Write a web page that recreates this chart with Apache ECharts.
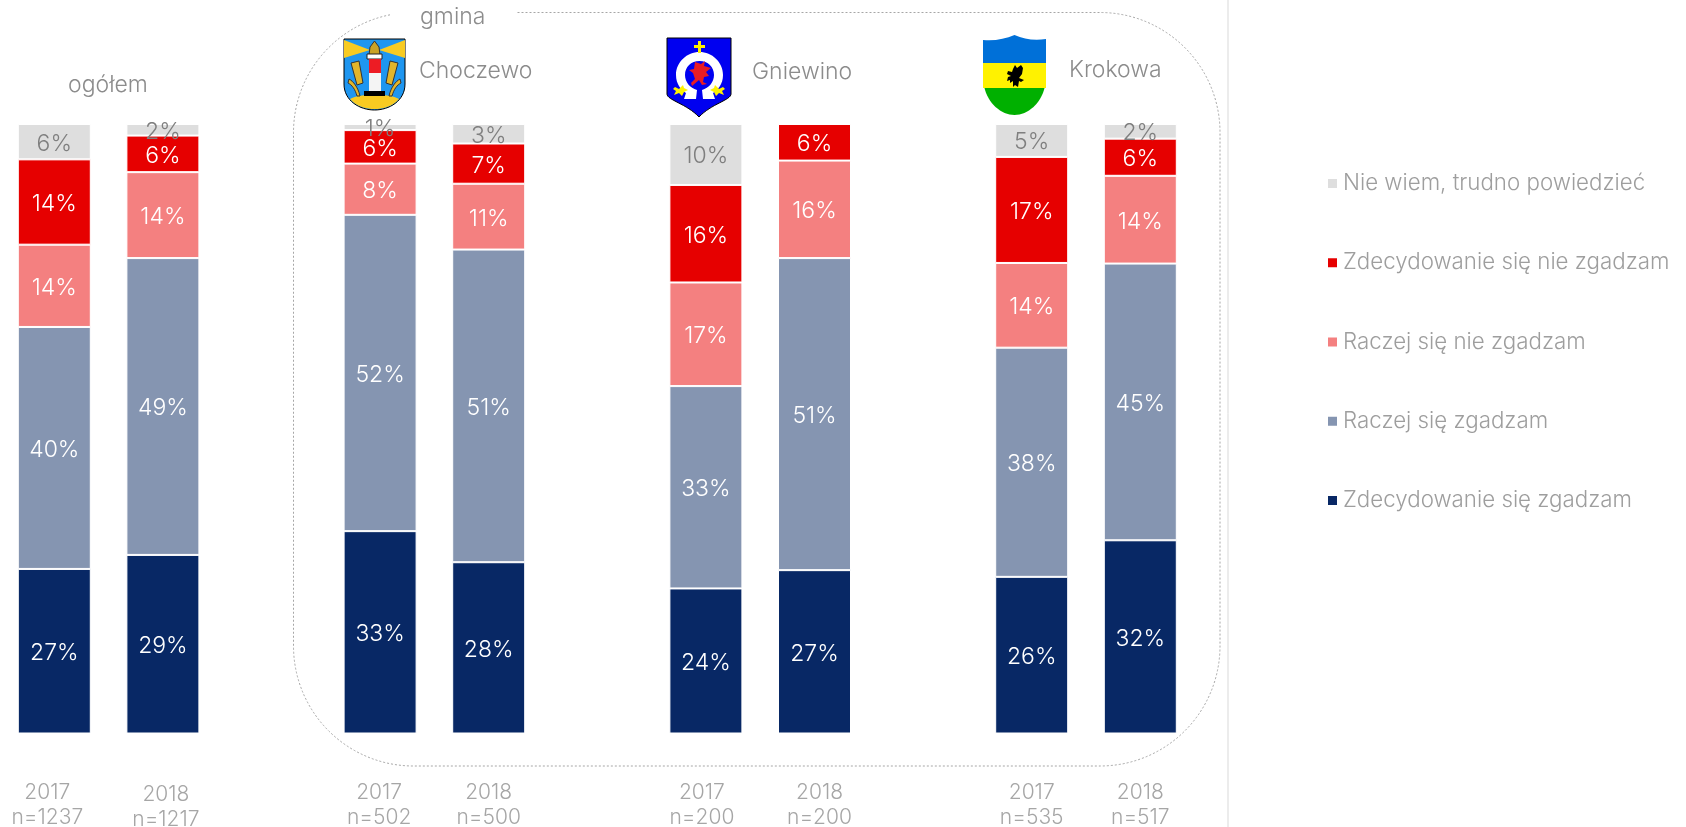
<!DOCTYPE html>
<html>
<head>
<meta charset="utf-8">
<style>
  html, body { margin: 0; padding: 0; background: #fff; }
  #root { width: 1686px; height: 827px; }
</style>
<script src="https://cdn.jsdelivr.net/npm/echarts@6/dist/echarts.min.js"></script>
</head>
<body>
<div id="root"></div>
<script>
const FONT = 'Inter'

// empty categories are the gaps between the groups
const categories = ['2017\nn=1237', '2018\nn=1217', '', '2017\nn=502', '2018\nn=500', '', '2017\nn=200', '2018\nn=200', '', '2017\nn=535', '2018\nn=517']
const labelShiftX = [-7, 3, 0, -1, 0, 0, -4, 5, 0, 0, 0]
const labelShiftY = [0, 1, 0, 0, -1, 0, 0, -1, 0, -1, -1]

const seriesNames = ['Zdecydowanie się zgadzam', 'Raczej się zgadzam', 'Raczej się nie zgadzam', 'Zdecydowanie się nie zgadzam', 'Nie wiem, trudno powiedzieć']
const strongAgree = [27.0, 29.3, null, 33.2, 28.1, null, 23.8, 26.8, null, 25.7, 31.7]
const ratherAgree = [39.7, 48.7, null, 51.9, 51.3, null, 33.2, 51.2, null, 37.6, 45.4]
const ratherDisagree = [13.5, 14.1, null, 8.4, 10.8, null, 17.0, 16.0, null, 13.9, 14.4]
const strongDisagree = [14.0, 6.0, null, 5.5, 6.6, null, 16.0, 6.0, null, 17.4, 6.1]
const dontKnow = [5.8, 1.9, null, 1.0, 3.2, null, 10.0, 0, null, 5.4, 2.4]

const seriesValues = [strongAgree, ratherAgree, ratherDisagree, strongDisagree, dontKnow]
const seriesColors = ['#082865', '#8595B1', '#F48080', '#E60000', '#DEDEDE']
const labelColors = ['#fff', '#fff', '#fff', '#fff', '#7F7F7F']

// simplified coats of arms, [fill, path] in local coordinates
const armsChoczewo = [
  ['#1E96F0', 'M0 0H61V45C61 62 45 71 30.5 71C16 71 0 62 0 45Z', '#000'],
  ['#F8CB22', 'M0 1L26 11L0 19Z'],
  ['#F8CB22', 'M61 1L35 11L61 19Z'],
  ['#F8CB22', 'M6 60C16 54 45 54 55 60C48 68 38 70 30.5 70C23 70 13 68 6 60Z'],
  ['#C9A227', 'M30.5 2L35 8L36 16H25L26 8Z', '#333'],
  ['#fff', 'M23 15H38V20H23Z', '#222'],
  ['#ED1C24', 'M25 20H37V34H25Z'],
  ['#F4F4F4', 'M25 34H37V52H25Z'],
  ['#000', 'M20 52H41V57H20Z'],
  ['#E2B52A', 'M7 24L15 22L19 44L13 46Z', '#333'],
  ['#E2B52A', 'M54 24L46 22L42 44L48 46Z', '#333'],
  ['#E2B52A', 'M5 40C9 42 14 48 16 57L13 57C11 50 8 46 4 44Z', '#333'],
  ['#E2B52A', 'M56 40C52 42 47 48 45 57L48 57C50 50 53 46 57 44Z', '#333']
]
const armsGniewino = [
  ['#0000F0', 'M0 0H64V56C64 62 44 66 32 79C20 66 0 62 0 56Z', '#000'],
  ['#fff', 'M32.5 14C45 14 56 24 56 37C56 46 51 52 46 55L48 61H36L35 52C42 50 47 44 47 37C47 29 41 23 32.5 23C24 23 18 29 18 37C18 44 23 50 30 52L29 61H17L19 55C14 52 9 46 9 37C9 24 20 14 32.5 14Z'],
  ['#FFF200', 'M31 3H34V7H38V10H34V15H31V10H27V7H31Z'],
  ['#FFF200', 'M8 49L12 51L16 47L17 50L21 52L17 54L15 58L12 55L7 57L9 53L6 51Z'],
  ['#FFF200', 'M56 49L52 51L48 47L47 50L43 52L47 54L49 58L52 55L57 57L55 53L58 51Z'],
  ['#E81C24', 'M28 24L34 26L38 23L37 28L44 30L39 34L42 38L37 39L36 44L40 46L35 47L32 42L25 48L24 45L28 41L26 35L22 32L27 31Z']
]
const armsKrokowa = [
  ['#0070D8', 'M0 5C12 6 22 4 31.5 0C41 4 51 6 63 4V28H0Z'],
  ['#FFF200', 'M0 28H63V53H0Z'],
  ['#00B000', 'M1.5 53H61.5C58 68 45 80 31.5 80C18 80 5 68 1.5 53Z'],
  ['#000', 'M32 30L34 33L38 30L40 33L39 39L36 43L41 45L38 47L36 46L35 52L32 50L30 52L30 46L27 48L27 45L24 46L25 42L28 41L24 39L25 36L29 37L30 34Z']
]

const textColor = '#8C8C8C'
const legendColor = '#9E9E9E'

function arms(name, x, y, parts) {
  return {
    type: 'group',
    x: x,
    y: y,
    children: parts.map((p, i) => {
      const shapeName = name + i
      echarts.graphic.registerShape(shapeName, echarts.graphic.extendPath(p[1], {}))
      return {
        type: shapeName,
        shape: {},
        style: { fill: p[0], stroke: p[2] || null, lineWidth: p[2] ? 1 : 0 }
      }
    })
  }
}

function title(x, y, str) {
  return {
    type: 'text',
    x: x,
    y: y,
    z: 5,
    style: { text: str, fill: textColor, font: '300 23px ' + FONT, textAlign: 'left', textVerticalAlign: 'middle' }
  }
}

const chart = echarts.init(document.getElementById('root'))

chart.setOption({
  backgroundColor: '#fff',
  animation: false,
  textStyle: { fontFamily: FONT },
  grid: { left: 0, top: 124, width: 1194.6, height: 609.5, outerBoundsMode: 'none' },
  xAxis: {
    type: 'category',
    data: categories.map((c, i) => ({
      value: c,
      textStyle: { padding: [Math.max(labelShiftY[i], 0) * 2, Math.max(-labelShiftX[i], 0) * 2, Math.max(-labelShiftY[i], 0) * 2, Math.max(labelShiftX[i], 0) * 2] }
    })),
    axisLine: { show: false },
    axisTick: { show: false },
    axisLabel: {
      interval: 0,
      margin: 46,
      fontSize: 21,
      fontWeight: 300,
      lineHeight: 25.5,
      color: '#A6A6A6'
    }
  },
  yAxis: { type: 'value', min: 0, max: 100, show: false },
  legend: {
    orient: 'vertical',
    left: 1326,
    top: 171,
    padding: 0,
    itemWidth: 11,
    itemHeight: 11,
    itemGap: 54.25,
    icon: 'rect',
    selectedMode: false,
    data: seriesNames.slice().reverse(),
    textStyle: { color: legendColor, fontSize: 22.3, fontWeight: 300, lineHeight: 25 }
  },
  series: seriesNames.map((name, i) => ({
    name: name,
    type: 'bar',
    stack: 'all',
    barWidth: 73,
    data: seriesValues[i],
    itemStyle: { color: seriesColors[i], borderColor: '#fff', borderWidth: 1 },
    label: {
      show: true,
      position: 'inside',
      offset: [0, 2],
      fontSize: 23,
      fontWeight: 300,
      color: labelColors[i],
      formatter: p => (p.value ? Math.round(p.value) + '%' : '')
    }
  })),
  graphic: [
    {
      type: 'rect',
      z: -1,
      shape: { x: 293.5, y: 12.5, width: 926.5, height: 753.5, r: 120 },
      style: { fill: null, stroke: '#A6A6A6', lineWidth: 1, lineDash: [2, 2] }
    },
    { type: 'rect', z: 0, shape: { x: 390, y: 0, width: 127, height: 30 }, style: { fill: '#fff' } },
    {
      type: 'line',
      z: -1,
      shape: { x1: 1228, y1: 0, x2: 1228, y2: 827 },
      style: { stroke: '#D9D9D9', lineWidth: 1 }
    },
    arms('armC', 344, 39, armsChoczewo),
    arms('armG', 667, 38, armsGniewino),
    arms('armK', 983, 35, armsKrokowa),
    title(68, 85, 'ogółem'),
    title(420, 17, 'gmina'),
    title(419, 71, 'Choczewo'),
    title(752, 72, 'Gniewino'),
    title(1069, 70, 'Krokowa')
  ]
})
</script>
</body>
</html>
